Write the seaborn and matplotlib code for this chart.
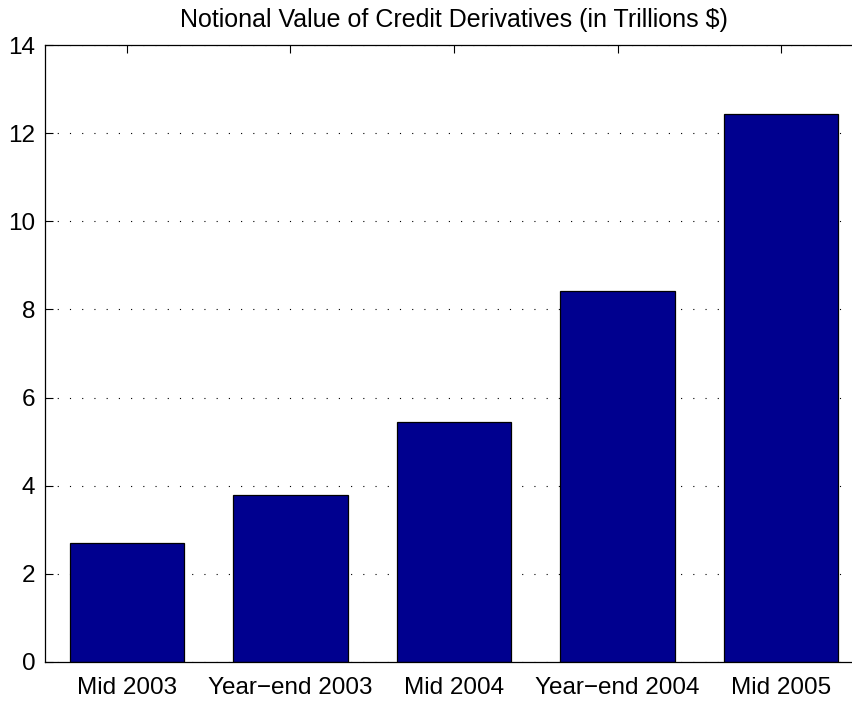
import matplotlib
matplotlib.use("Agg")
import matplotlib.pyplot as plt
import seaborn as sns
import pandas as pd

# Notional value of credit derivatives (trillions $)
periods = ["Mid 2003", "Year\u2212end 2003", "Mid 2004", "Year\u2212end 2004", "Mid 2005"]
values = [2.69, 3.78, 5.44, 8.42, 12.43]

df = pd.DataFrame({"Period": periods, "Value": values})

sns.set_style("white")
plt.rcParams["font.family"] = ["Liberation Sans", "DejaVu Sans"]

fig = plt.figure(figsize=(8.53, 7.02), dpi=100)
# axes run a little past the right edge, as in the source picture
ax = fig.add_axes([45 / 853, 40 / 702, 818 / 853, 617 / 702])

sns.barplot(data=df, x="Period", y="Value", color="#00008F", saturation=1,
            width=0.7, edgecolor="black", linewidth=0.9, ax=ax)

ax.set_xlim(-0.5, 4.5)
ax.set_ylim(0, 14)
ax.set_yticks(range(0, 15, 2))
ax.set_xlabel("")
ax.set_ylabel("")
ax.set_title("Notional Value of Credit Derivatives (in Trillions $)", fontsize=18,
             pad=13, color="black")

ax.yaxis.grid(True, linestyle=(0, (1, 10)), color="black", linewidth=0.8)
ax.set_axisbelow(True)
for s in ax.spines.values():
    s.set_visible(True)
    s.set_color("black")
    s.set_linewidth(0.9)
ax.tick_params(axis="both", direction="in", length=6, width=0.8, labelsize=17.5,
               top=True, right=True, left=True, bottom=True, colors="black")
ax.tick_params(axis="x", pad=11)
ax.tick_params(axis="y", pad=7)

fig.savefig("out.png", dpi=100)
